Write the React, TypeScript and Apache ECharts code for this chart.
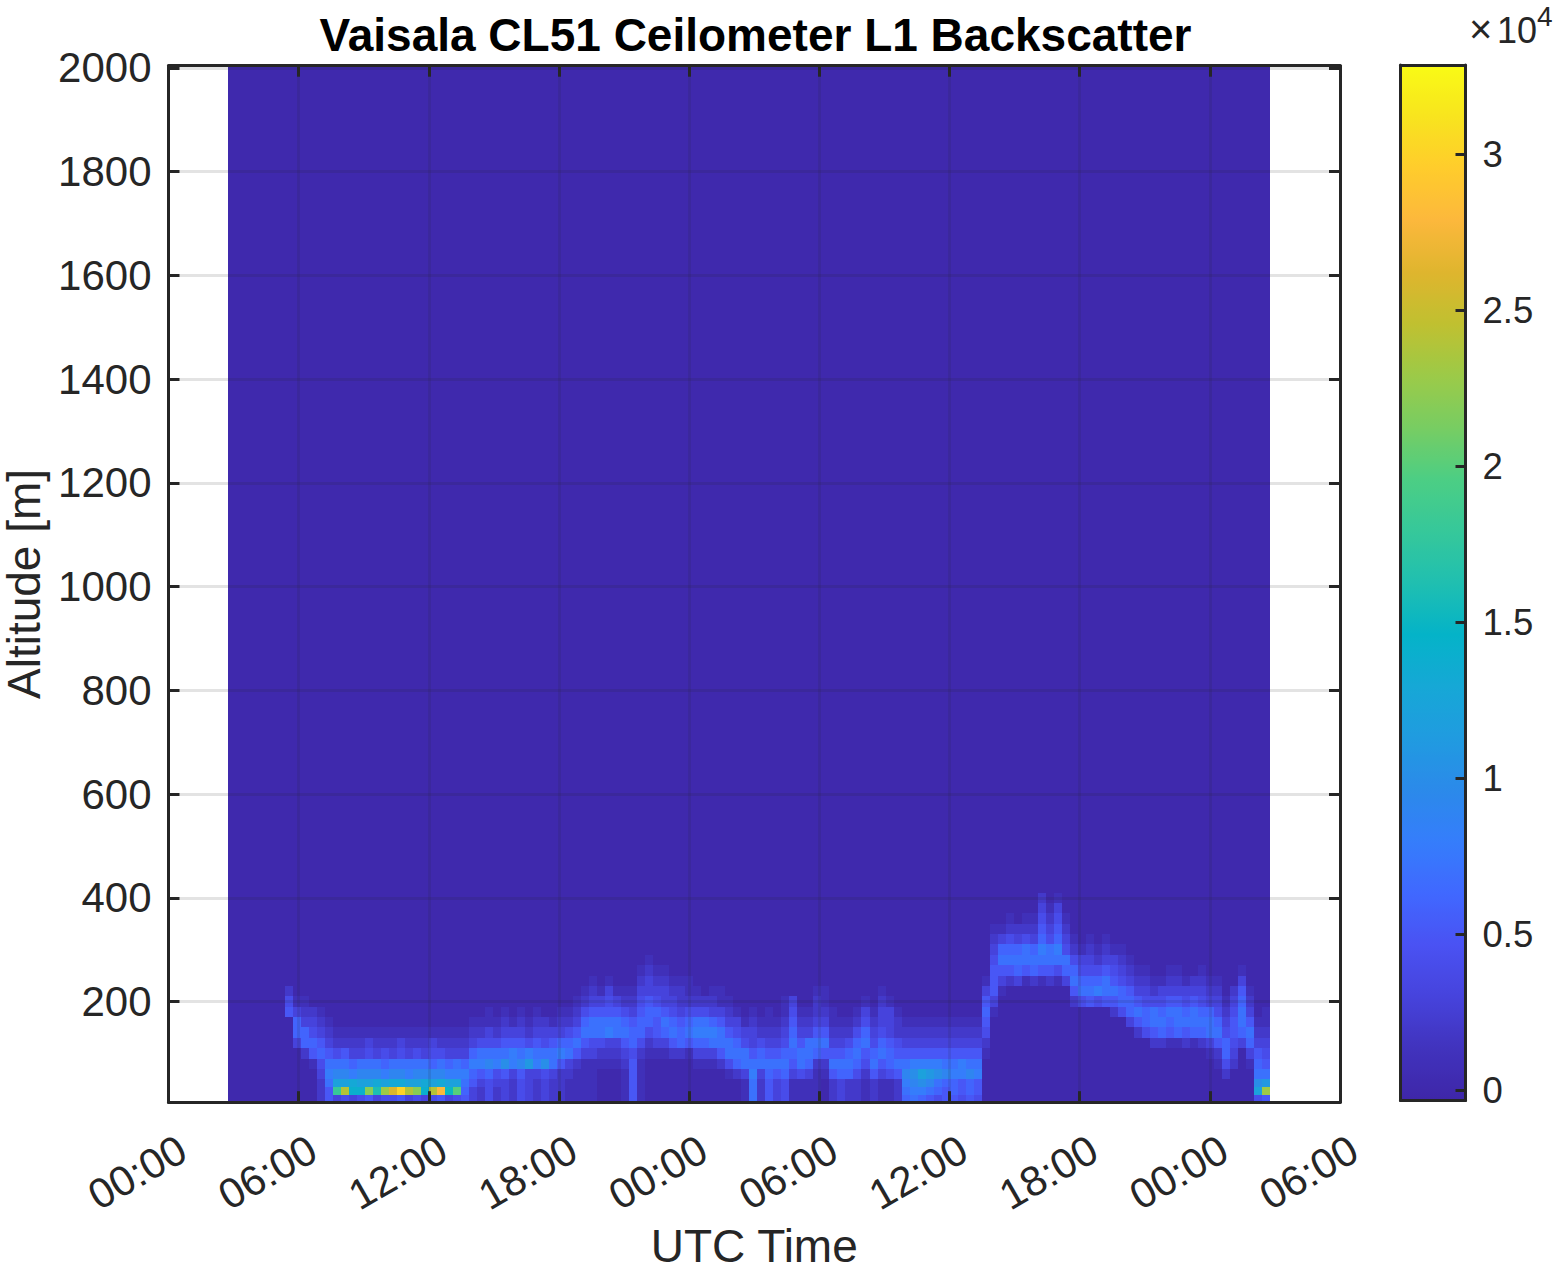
import React, { useEffect, useRef } from "react";
import * as echarts from "echarts";

const titleText = "Vaisala CL51 Ceilometer L1 Backscatter";
const yTicks = [200, 400, 600, 800, 1000, 1200, 1400, 1600, 1800, 2000];
const cbTicks = [0, 5000, 10000, 15000, 20000, 25000, 30000];
const parula = ["#3e26a8","#4133bd","#4643dc","#4a52f3","#4068ff","#357dfb","#2b8aea","#209be0","#16a8d6","#04b3c8","#20bfb0","#36c89a","#4cce84","#78cd62","#9cca48","#c0c030","#dfb52e","#fcb83c","#ffcc2c","#f8e41e","#f9fb15"];
const altitudeEdges = [6,20,35,50,70,90,110,130,150,170,190,210,230,250,270,290,310,330,350,370,390,410,2004];
const firstHour = 2.765;
const hourStep = 0.36935;
const backgroundValue = 100;
// one string per time column, one base-36 character per altitude bin (bottom up), unit 1000
const columns = [
"","","","","","","",
"000000000542","00000036631","00000266321","0000156432","2223465321","557875321",
"3ic97421","4oc97521","3ed86321","4ec97321","5mc97431","3gd97321","4nc86421","4qd97321","5ud97431","3oc87321","4mc97421","3ed97321","4oc96431","5sd97421","3fc86321","4kc87321",
"56786321","335686321","223587421","4446974311","223487421","3335a75321","222388531","4445975321","3333b8421","2223875321","3334a7432","222377531","2222586321",
"1112376421","11112575321","111113576421","1111134775321","000012477531","0000123875431","000012377531","111123576421","555554665321","11111246654321",
"000001246653321","00000135564321","00000136753321","0000025764321","0000026653221","0000015764211","000013687421","00001368742","000013786321","000025775311","00014775321","0002676431",
"111377431","7778753321","222376421","5556753211","333575321","44467643211","11135676543","1114775321","1113677321","111126753221","000125753211","2225753211","333675321","222676421","2224676421","11124576431","2225764321","111357643321","11146653331","2225754221",
"678975321","789a85321","68ac85321","579b85321","467a85321","556975321","566875321","455885321","566975321","455875321",
"0000012456531","000000000135554321","000000000001357631","0000000000002576421","000000000000367632","0000000000001577421","0000000000002676321","000000000000157865432","00000000000025774321","000000000000147865431","0000000000003674321",
"00000000002576421","0000000000476431","00000000005764321","0000000000486421","00000000005775321","0000000002575431","0000000004664321","000000003665321","00000002575321","00000004664321",
"0000002577421","0000002676431","00000015675321","00000016775321","0000002576431","0000001677532","00000026764321","0000013776321","0000125764321","00024664321",
"000023455432","00000036776531","000013675321","4ca765321","5nb7543211",
];

const ink = "#262626";
const fontFamily = "'Liberation Sans', Arial, sans-serif";

function buildCells() {
  const cells: number[][] = [];
  columns.forEach((col, i) => {
    const t0 = firstHour + i * hourStep;
    const t1 = t0 + hourStep;
    for (let r = 0; r < altitudeEdges.length - 1; r++) {
      const ch = col[r];
      const v = ch && ch !== "0" ? parseInt(ch, 36) * 1000 : backgroundValue;
      cells.push([t0, t1, altitudeEdges[r], altitudeEdges[r + 1], v]);
    }
  });
  return cells;
}

const lineStyle = { color: ink, width: 3 };
const tickStyle = { color: ink, width: 3 };
const frameLine = { show: true, onZero: false, lineStyle };
const gridLine = { show: true, lineStyle: { color: "rgba(38,38,38,0.13)", width: 2.8 } };

export default function App() {
  const ref = useRef<HTMLDivElement>(null);
  useEffect(() => {
    document.body.style.margin = "0";
    const chart = echarts.init(ref.current!, undefined, { renderer: "svg" });
    const plotBox = { left: 168.5, top: 65.7, width: 1171.5, height: 1036.5 };
    const xBase = { type: "value", gridIndex: 0, min: 0, max: 54, interval: 6, z: 10 };
    const yBase = { type: "value", gridIndex: 0, min: 6, max: 2004, z: 10 };
    chart.setOption({
      animation: false,
      backgroundColor: "#ffffff",
      title: {
        text: titleText, left: 750.5, top: 7, textAlign: "center",
        textStyle: { fontFamily, fontWeight: "bold", fontSize: 46, color: "#000" },
      },
      grid: [
        { ...plotBox, containLabel: false, outerBoundsMode: "none" },
        { left: 1400.5, top: 65, width: 65, height: 1035.5, containLabel: false, outerBoundsMode: "none" },
      ],
      xAxis: [
        {
          ...xBase, position: "bottom", name: "UTC Time", nameLocation: "middle", nameGap: 129,
          nameTextStyle: { fontFamily, fontSize: 46, color: ink, lineHeight: 44, verticalAlign: "middle" },
          axisLine: frameLine,
          axisTick: { show: true, inside: true, length: 11, lineStyle: tickStyle },
          splitLine: gridLine,
          axisLabel: {
            show: true, rotate: 30, fontFamily, fontSize: 42, color: ink, margin: 52,
            align: "center", verticalAlign: "middle", padding: [0, 72, 0, 0],
            formatter: (v: number) => String(v % 24).padStart(2, "0") + ":00",
          },
        },
        {
          ...xBase, position: "top",
          axisLine: frameLine,
          axisTick: { show: true, inside: true, length: 11, lineStyle: tickStyle },
          splitLine: { show: false }, axisLabel: { show: false },
        },
        {
          type: "value", gridIndex: 1, min: 0, max: 1, position: "bottom", z: 10,
          axisLine: frameLine, axisTick: { show: false }, splitLine: { show: false }, axisLabel: { show: false },
        },
        {
          type: "value", gridIndex: 1, min: 0, max: 1, position: "top", z: 10,
          axisLine: frameLine, axisTick: { show: false }, splitLine: { show: false }, axisLabel: { show: false },
        },
      ],
      yAxis: [
        {
          ...yBase, position: "left", name: "Altitude [m]", nameLocation: "middle", nameGap: 126,
          nameTextStyle: { fontFamily, fontSize: 46, color: ink, lineHeight: 42, verticalAlign: "middle" },
          axisLine: frameLine,
          axisTick: { show: true, inside: true, length: 11, lineStyle: tickStyle, customValues: yTicks },
          splitLine: gridLine,
          axisLabel: { show: true, fontFamily, fontSize: 42, color: ink, margin: 17, padding: [4, 0, 0, 0], customValues: yTicks, formatter: (v: number) => String(v) },
        },
        {
          ...yBase, position: "right",
          axisLine: frameLine,
          axisTick: { show: true, inside: true, length: 11, lineStyle: tickStyle, customValues: yTicks },
          splitLine: { show: false }, axisLabel: { show: false },
        },
        {
          type: "value", gridIndex: 1, min: -330, max: 32860, position: "right", z: 10,
          axisLine: frameLine,
          axisTick: { show: true, inside: true, length: 10, lineStyle: tickStyle, customValues: cbTicks },
          splitLine: { show: false },
          axisLabel: { show: true, fontFamily, fontSize: 36.5, color: ink, margin: 17, padding: [5, 0, 0, 0], customValues: cbTicks, formatter: (v: number) => String(v / 10000) },
        },
        {
          type: "value", gridIndex: 1, min: -330, max: 32860, position: "left", z: 10,
          axisLine: frameLine, axisTick: { show: false }, splitLine: { show: false }, axisLabel: { show: false },
        },
      ],
      visualMap: {
        type: "continuous", min: -330, max: 32860, dimension: 4, seriesIndex: 0,
        left: 1400.5, top: 65, itemWidth: 65, itemHeight: 1035.5, padding: 0,
        calculable: false, realtime: false, text: null, showLabel: false, hoverLink: false,
        inRange: { color: parula },
      },
      graphic: [
        { type: "text", left: 1469, top: 9, style: { text: "×", font: `40px ${fontFamily}`, fill: ink } },
        { type: "text", left: 1497, top: 12, style: { text: "10", font: `36px ${fontFamily}`, fill: ink } },
        { type: "text", left: 1537, top: 2, style: { text: "4", font: `28px ${fontFamily}`, fill: ink } },
      ],
      series: [
        {
          type: "custom", xAxisIndex: 0, yAxisIndex: 0, silent: true,
          encode: { x: [0, 1], y: [2, 3] },
          data: buildCells(),
          renderItem: (_p: any, api: any) => {
            const a = api.coord([api.value(0), api.value(3)]);
            const b = api.coord([api.value(1), api.value(2)]);
            const x = Math.round(a[0]);
            const y = Math.round(a[1]);
            return {
              type: "rect",
              shape: { x, y, width: Math.round(b[0]) - x, height: Math.round(b[1]) - y },
              style: { fill: api.visual("color") },
            };
          },
        },
      ],
    });
    return () => chart.dispose();
  }, []);
  return <div ref={ref} style={{ position: "absolute", left: 0, top: 0, width: 1556, height: 1272 }} />;
}
